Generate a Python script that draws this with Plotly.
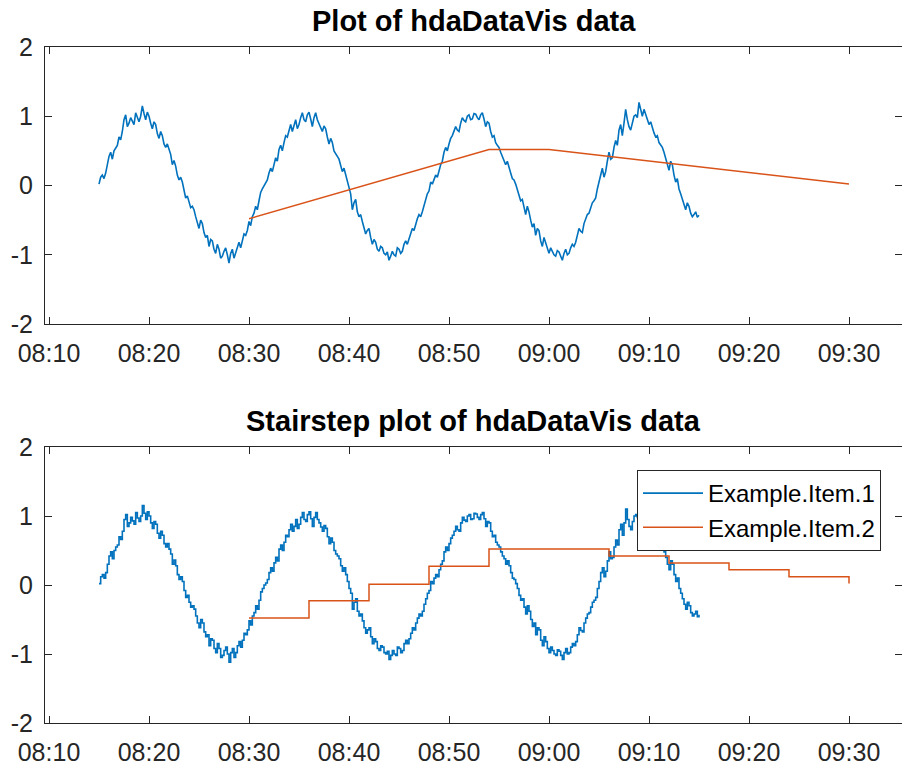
import plotly.graph_objects as go
import pandas as pd

# ---------------- data ----------------
item1_name = "Example.Item.1"
item1_start = "2017-01-01 08:15:00"
item1_step_seconds = 10
item1_values = [
    # 08:15:00 - 08:31:30
    0.02, 0.12, 0.15, 0.10, 0.18, 0.30, 0.42, 0.48, 0.38, 0.50, 0.55, 0.58, 0.70, 0.66, 0.78, 0.95, 1.02, 0.85, 0.90, 0.98,
    0.93, 0.88, 1.05, 0.97, 0.92, 1.00, 1.15, 1.04, 0.95, 1.06, 1.00, 0.90, 0.82, 0.92, 0.88, 0.75, 0.68, 0.78, 0.72, 0.60,
    0.55, 0.60, 0.52, 0.45, 0.30, 0.36, 0.28, 0.15, 0.08, 0.12, 0.05, -0.08, -0.18, -0.15, -0.25, -0.32, -0.30, -0.35, -0.45, -0.55,
    -0.62, -0.50, -0.55, -0.68, -0.75, -0.72, -0.88, -0.78, -0.80, -0.92, -0.98, -0.85, -0.92, -1.05, -1.02, -0.95, -0.90, -1.00, -1.12, -0.98,
    -0.92, -1.05, -0.98, -0.88, -0.82, -0.90, -0.80, -0.70, -0.72, -0.65, -0.52, -0.58, -0.45, -0.40, -0.30, -0.35, -0.22, -0.10, -0.05, 0.00,
    # 08:31:40 - 08:48:10
    0.03, 0.08, 0.18, 0.25, 0.20, 0.32, 0.40, 0.35, 0.52, 0.58, 0.50, 0.62, 0.72, 0.70, 0.80, 0.88, 0.78, 0.85, 0.95, 0.82,
    0.88, 0.98, 1.05, 0.95, 0.92, 1.02, 1.06, 0.96, 0.85, 0.98, 1.05, 0.95, 0.90, 0.84, 0.78, 0.86, 0.82, 0.70, 0.60, 0.68,
    0.62, 0.50, 0.45, 0.42, 0.38, 0.28, 0.20, 0.25, 0.15, 0.05, -0.05, -0.12, -0.35, -0.25, -0.20, -0.38, -0.45, -0.42, -0.52, -0.62,
    -0.70, -0.65, -0.62, -0.75, -0.85, -0.78, -0.82, -0.92, -0.95, -0.88, -0.90, -0.98, -1.00, -0.96, -1.08, -1.02, -0.95, -1.00, -1.02, -0.90,
    -0.92, -0.98, -0.95, -0.85, -0.80, -0.85, -0.78, -0.70, -0.62, -0.65, -0.55, -0.48, -0.42, -0.45, -0.38, -0.28, -0.20, -0.12, -0.08, 0.05,
    # 08:48:20 - 09:04:50
    0.02, 0.10, 0.15, 0.12, 0.22, 0.30, 0.35, 0.48, 0.55, 0.50, 0.60, 0.68, 0.72, 0.78, 0.85, 0.80, 0.78, 0.90, 0.98, 0.94,
    0.92, 1.00, 1.02, 0.95, 0.96, 1.04, 1.03, 0.98, 0.95, 1.02, 1.05, 0.96, 0.85, 0.92, 0.90, 0.78, 0.70, 0.72, 0.62, 0.58,
    0.55, 0.48, 0.42, 0.38, 0.30, 0.35, 0.28, 0.18, 0.10, 0.08, 0.02, -0.05, -0.15, -0.22, -0.20, -0.32, -0.42, -0.30, -0.38, -0.50,
    -0.60, -0.55, -0.72, -0.62, -0.65, -0.80, -0.88, -0.75, -0.82, -0.92, -0.98, -0.90, -0.95, -1.00, -1.02, -0.94, -0.96, -1.02, -1.08, -0.98,
    -0.92, -1.00, -0.98, -0.90, -0.85, -0.88, -0.82, -0.72, -0.62, -0.66, -0.68, -0.55, -0.48, -0.42, -0.40, -0.32, -0.25, -0.22, -0.18, -0.05,
    # 09:05:00 - 09:15:00
    0.05, 0.18, 0.25, 0.12, 0.20, 0.35, 0.48, 0.38, 0.40, 0.55, 0.65, 0.58, 0.80, 0.88, 0.72, 0.90, 1.10, 0.95, 0.85, 0.80,
    0.92, 1.00, 1.02, 0.98, 1.20, 1.08, 1.00, 1.10, 1.02, 0.96, 0.88, 0.92, 0.82, 0.76, 0.70, 0.72, 0.62, 0.58, 0.55, 0.48,
    0.40, 0.30, 0.22, 0.35, 0.30, 0.15, 0.05, 0.10, -0.05, -0.12, -0.20, -0.28, -0.35, -0.25, -0.30, -0.40, -0.45, -0.42, -0.38, -0.46,
    -0.43,
]

item2_name = "Example.Item.2"
item2_times = ["08:30", "08:36", "08:42", "08:48", "08:54", "09:00",
               "09:06", "09:12", "09:18", "09:24", "09:30"]
item2_values = [-0.48, -0.23, 0.01, 0.27, 0.52, 0.52, 0.42, 0.32, 0.22, 0.12, 0.02]

day = "2017-01-01"
x_tick_labels = ["08:10", "08:20", "08:30", "08:40", "08:50", "09:00",
                 "09:10", "09:20", "09:30"]
x_range = ["08:09:36", "09:35:18"]
y_tick_values = [-2, -1, 0, 1, 2]
y_tick_labels = ["-2", "-1", "0", "1", "2"]

titles = ["Plot of hdaDataVis data", "Stairstep plot of hdaDataVis data"]

# ---------------- build ----------------
t1 = pd.date_range(item1_start, periods=len(item1_values), freq=f"{item1_step_seconds}s")
t2 = pd.to_datetime([f"{day} {t}" for t in item2_times])
xticks = pd.to_datetime([f"{day} {t}" for t in x_tick_labels])
xr = [f"{day} {t}" for t in x_range]

BLUE = "#0072BD"
ORANGE = "#D95319"
AX = "#262626"
FONT = "Liberation Sans, Arial, Helvetica, sans-serif"

fig = go.Figure()
fig.add_trace(go.Scatter(x=t1, y=item1_values, mode="lines", name=item1_name,
                         line=dict(color=BLUE, width=1.6), xaxis="x", yaxis="y",
                         showlegend=False))
fig.add_trace(go.Scatter(x=t2, y=item2_values, mode="lines", name=item2_name,
                         line=dict(color=ORANGE, width=1.5), xaxis="x", yaxis="y",
                         showlegend=False))
fig.add_trace(go.Scatter(x=t1, y=item1_values, mode="lines", name=item1_name,
                         line=dict(color=BLUE, width=1.6, shape="hv"), xaxis="x2", yaxis="y2"))
fig.add_trace(go.Scatter(x=t2, y=item2_values, mode="lines", name=item2_name,
                         line=dict(color=ORANGE, width=1.5, shape="hv"), xaxis="x2", yaxis="y2"))

H = 767
W = 902

def xaxis_common(anchor):
    return dict(range=xr, tickvals=xticks, ticktext=x_tick_labels, anchor=anchor,
                showgrid=False, zeroline=False, showline=True, linecolor=AX, linewidth=1,
                mirror="ticks", ticks="inside", ticklen=7, tickcolor=AX, tickwidth=1,
                tickfont=dict(family=FONT, size=25, color=AX), automargin=False,
                ticklabelstandoff=7)

def yaxis_common(anchor, dom):
    return dict(range=[-2, 2], tickvals=y_tick_values, ticktext=y_tick_labels, anchor=anchor,
                domain=dom, showgrid=False, zeroline=False, showline=True, linecolor=AX,
                linewidth=1, mirror="ticks", ticks="inside", ticklen=7, tickcolor=AX,
                tickwidth=1, tickfont=dict(family=FONT, size=25, color=AX), automargin=False,
                ticklabelstandoff=6)

top_dom = [1 - 324 / H, 1 - 47 / H]
bot_dom = [1 - 723 / H, 1 - 447 / H]

fig.update_layout(
    width=W, height=H,
    margin=dict(l=45, r=0, t=0, b=0),
    paper_bgcolor="white", plot_bgcolor="white",
    xaxis=xaxis_common("y"),
    yaxis=yaxis_common("x", top_dom),
    xaxis2=xaxis_common("y2"),
    yaxis2=yaxis_common("x2", bot_dom),
    showlegend=True,
    legend=dict(x=(637 - 45) / (W - 45), y=1 - 470 / H, xanchor="left", yanchor="top",
                bgcolor="white", bordercolor=AX, borderwidth=1,
                font=dict(family=FONT, size=24, color="black"), itemwidth=60,
                tracegroupgap=0),
    annotations=[
        dict(text=f"<b>{titles[0]}</b>", x=0.5, y=1 - 21 / H, xref="paper", yref="paper",
             xanchor="center", yanchor="middle", showarrow=False,
             font=dict(family=FONT, size=29, color="black")),
        dict(text=f"<b>{titles[1]}</b>", x=0.5, y=1 - 421 / H, xref="paper", yref="paper",
             xanchor="center", yanchor="middle", showarrow=False,
             font=dict(family=FONT, size=29, color="black")),
    ],
)

fig.write_html("out.html", config={"displayModeBar": False},
               post_script="document.body.style.margin='0';document.body.style.overflow='hidden';")
